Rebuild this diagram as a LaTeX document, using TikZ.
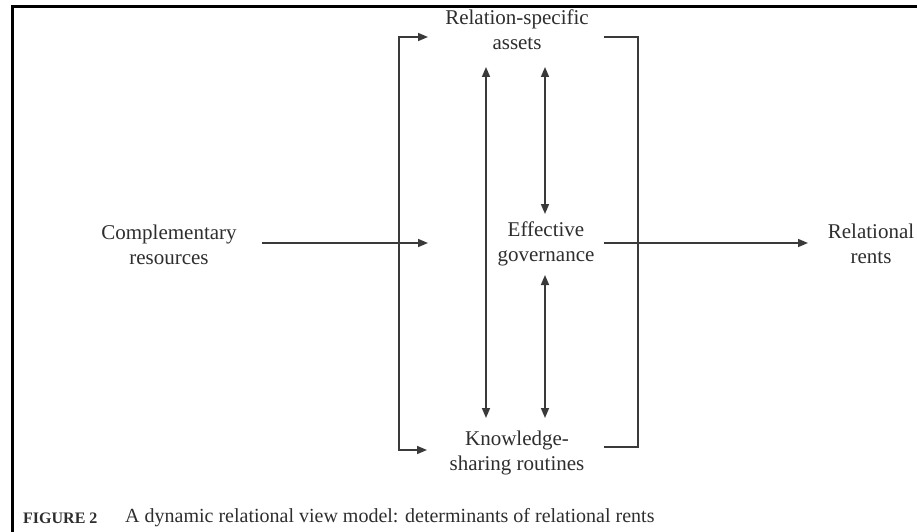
\documentclass[tikz,border=0pt]{standalone}
\usepackage{fontspec}
\setmainfont{Liberation Serif}
\usetikzlibrary{arrows.meta}
\definecolor{ink}{HTML}{3A3A3A}
\definecolor{txt}{HTML}{2E2E2E}
\tikzset{
  lbl/.style={align=center, text=txt, inner sep=2pt, font=\fontsize{21}{25}\selectfont},
  conn/.style={draw=ink, line width=1.6pt},
  arr/.style={conn, -{Triangle[length=10pt,width=8pt]}},
  darr/.style={conn, {Triangle[length=10pt,width=8pt]}-{Triangle[length=10pt,width=8pt]}},
  frame/.style={draw=black, line width=3pt}
}
\begin{document}
\begin{tikzpicture}[x=1pt,y=-1pt]
\useasboundingbox (0,0) rectangle (917,532);
\fill[white] (0,0) rectangle (917,532);
% frame
\draw[frame] (12,532) -- (12,6.5) -- (917,6.5);
% nodes
\node[lbl] (rsa) at (517,30) {Relation-specific\\assets};
\node[lbl] (eg) at (546,244) {Effective\\governance};
\node[lbl] (ksr) at (517,453) {Knowledge-\\sharing routines};
\node[lbl] (cr) at (169,245) {Complementary\\resources};
\node[lbl] (rr) at (871,244) {Relational\\rents};
% coordinates
\coordinate (crout) at (262,243);
\coordinate (egin) at (428,243);
\coordinate (lt) at (399,37);
\coordinate (ltt) at (428,37);
\coordinate (lb) at (399,450);
\coordinate (lbt) at (427,450);
\coordinate (rt) at (604,37);
\coordinate (rb) at (604,447);
\coordinate (rtc) at (638,37);
\coordinate (rbc) at (638,447);
\coordinate (egout) at (604,243);
\coordinate (rrin) at (808,243);
\coordinate (a1t) at (486,67);
\coordinate (a1b) at (486,418);
\coordinate (a2t) at (545,67);
\coordinate (a2m) at (545,214);
\coordinate (a3t) at (545,275);
\coordinate (a3b) at (545,418);
% connectors
\draw[arr] (crout) -- (egin);
\draw[arr] (lb) -- (lt) -- (ltt);
\draw[arr] (lt) -- (lb) -- (lbt);
\draw[conn] (rt) -- (rtc) -- (rbc) -- (rb);
\draw[arr] (egout) -- (rrin);
\draw[darr] (a1t) -- (a1b);
\draw[darr] (a2t) -- (a2m);
\draw[darr] (a3t) -- (a3b);
% caption
\node[anchor=west, inner sep=0pt, text=txt, font=\fontsize{16}{18}\selectfont\bfseries] (fig) at (23,518) {FIGURE 2};
\node[anchor=west, inner sep=0pt, text=txt, font=\fontsize{20}{23}\selectfont] (cap) at (125,518) {A dynamic relational view model: determinants of relational rents};
\end{tikzpicture}
\end{document}
